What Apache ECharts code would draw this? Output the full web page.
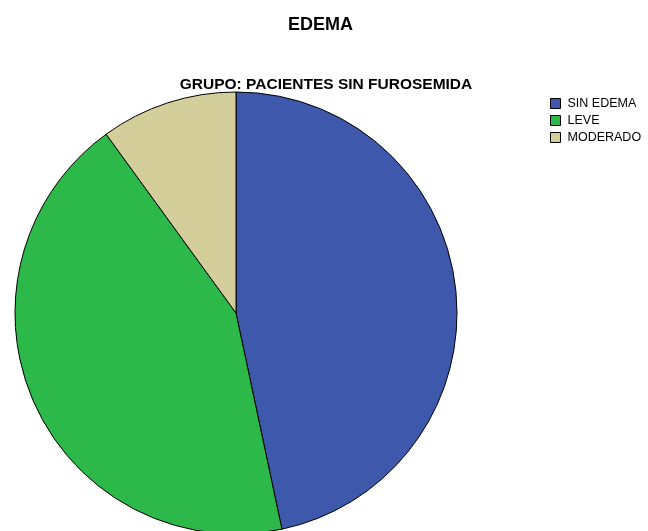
<!DOCTYPE html>
<html><head><meta charset="utf-8">
<script src="https://cdn.jsdelivr.net/npm/echarts@6/dist/echarts.min.js"></script>
<style>html,body{margin:0;padding:0;background:#fff}#c{width:648px;height:531px}</style>
</head><body><div id="c"></div>
<script>
const categories = ['SIN EDEMA', 'LEVE', 'MODERADO'];
const values = [14, 13, 3];
const colors = ['#3E58AC', '#2DB84A', '#D3CE9A'];
const chart = echarts.init(document.getElementById('c'), null, {renderer: 'canvas'});
chart.setOption({
  animation: false,
  backgroundColor: '#fff',
  title: [
    {text: 'EDEMA', left: 315.5, top: 11, textAlign: 'center',
     textStyle: {fontFamily: 'Liberation Sans, Arial', fontSize: 18, fontWeight: 'bold', color: '#000'}},
    {text: 'GRUPO: PACIENTES SIN FUROSEMIDA', left: 321, top: 72, textAlign: 'center',
     textStyle: {fontFamily: 'Liberation Sans, Arial', fontSize: 15.5, fontWeight: 'bold', color: '#000'}}
  ],
  legend: {
    orient: 'vertical', left: 550, top: 97, itemWidth: 10, itemHeight: 10, itemGap: 4, padding: 0,
    icon: 'rect', data: categories,
    textStyle: {fontFamily: 'Liberation Sans, Arial', fontSize: 12.5, lineHeight: 12, color: '#000', padding: [0,0,0,2]},
    itemStyle: {borderColor: '#000', borderWidth: 1}
  },
  series: [{
    type: 'pie', center: [236, 313], radius: 221, startAngle: 90, clockwise: true,
    label: {show: false}, labelLine: {show: false}, silent: true,
    itemStyle: {borderColor: '#000', borderWidth: 1},
    data: categories.map((n, i) => ({name: n, value: values[i], itemStyle: {color: colors[i]}}))
  }]
});
</script></body></html>
